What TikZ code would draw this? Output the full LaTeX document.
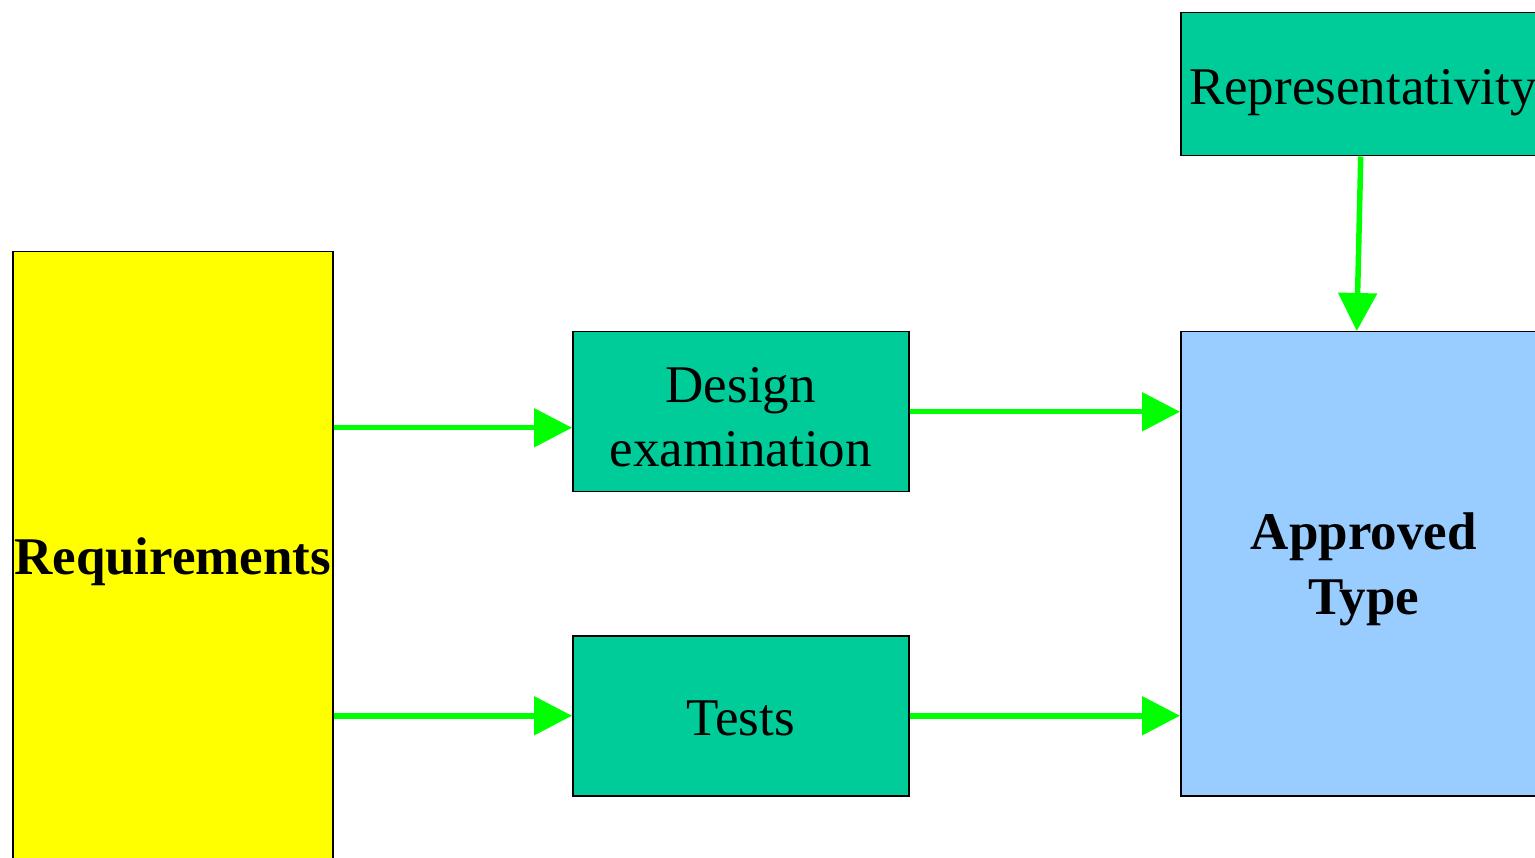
\documentclass[tikz,border=0pt]{standalone}
\usepackage{fontspec}
\setmainfont{Liberation Serif}
\usetikzlibrary{arrows.meta,calc}
\definecolor{boxteal}{RGB}{0,204,153}
\definecolor{lightblue}{RGB}{153,204,255}
\definecolor{pureyellow}{RGB}{255,255,0}
\definecolor{arrowgreen}{RGB}{0,255,0}
\begin{document}
\begin{tikzpicture}[x=1pt,y=-1pt,
 box/.style={draw=black,line width=1.5pt,inner sep=0pt,anchor=north west},
 txt/.style={inner sep=0pt,align=center,font=\fontsize{53}{64}\selectfont},
 btxt/.style={txt,font=\fontsize{53}{65}\selectfont\bfseries},
 conn/.style={draw=arrowgreen,line width=5.5pt,-{Triangle[length=38pt,width=38pt]}}]
\useasboundingbox (0,0) rectangle (1535,858);
\node[box,fill=pureyellow,minimum width=320pt,minimum height=612pt] (req) at (12,251) {};
\node[box,fill=boxteal,minimum width=336pt,minimum height=160pt] (design) at (572,331) {};
\node[box,fill=boxteal,minimum width=336pt,minimum height=160pt] (tests) at (572,635) {};
\node[box,fill=boxteal,minimum width=360pt,minimum height=143pt] (rep) at (1180,12) {};
\node[box,fill=lightblue,minimum width=360pt,minimum height=464pt] (appr) at (1180,331) {};
\node[btxt] (reqt) at ([yshift=-4pt]req.center) {Requirements};
\node[txt] (designt) at ([yshift=-5pt]design.center) {Design\\examination};
\node[txt] (testst) at ([yshift=-3pt]tests.center) {Tests};
\node[txt] (rept) at ([yshift=-8pt,xshift=2pt]rep.center) {Representativity};
\node[btxt] (apprt) at ([yshift=-6pt,xshift=3pt]appr.center) {Approved\\Type};
\coordinate (d1) at ($(design.west)+(0,16)$);
\draw[conn] (req.east |- d1) -- (d1);
\draw[conn] (req.east |- tests.west) -- (tests.west);
\draw[conn] (design.east) -- (appr.west |- design.east);
\draw[conn] (tests.east) -- (appr.west |- tests.east);
\draw[conn] (rep.south) -- ($(appr.north)+(-4,0)$);
\end{tikzpicture}
\end{document}
